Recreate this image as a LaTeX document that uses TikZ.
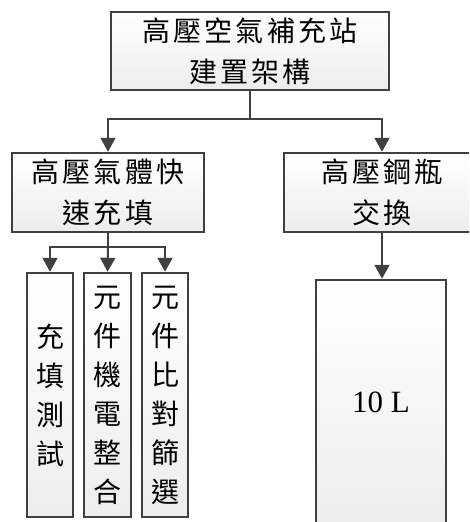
\documentclass[tikz,border=0pt]{standalone}
\usepackage{fontspec}
\setmainfont{Liberation Serif}
\newfontfamily\cjk[LetterSpace=11]{Noto Sans CJK TC}
\newfontfamily\cjkv{Noto Sans CJK TC}
\usetikzlibrary{arrows.meta}
\definecolor{edge}{HTML}{404040}
\tikzset{
  box/.style={draw=edge, line width=2.5pt, top color=white, bottom color=black!7, inner sep=0pt, align=center},
  htext/.style={font=\fontsize{28}{41}\selectfont\cjk},
  vtext/.style={font=\fontsize{28}{39}\selectfont\cjkv},
  conn/.style={draw=edge, line width=2pt},
  arr/.style={conn, -{Triangle[length=14pt,width=15pt]}},
}
\begin{document}
\begin{tikzpicture}[x=1pt,y=-1pt]
\useasboundingbox (0,0) rectangle (469,522);
\begin{scope}
\clip (0,0) rectangle (469,522);
\node[box, htext, minimum width=278pt, minimum height=78pt] (top) at (250,51) {高壓空氣補充站\\建置架構};
\node[box, htext, minimum width=192pt, minimum height=79pt] (mid1) at (108,192.5) {高壓氣體快\\速充填};
\node[box, htext, minimum width=196pt, minimum height=79pt] (mid2) at (382,192.5) {高壓鋼瓶\\交換};
\node[box, vtext, minimum width=46pt, minimum height=244pt] (s1) at (50,395) {充\\填\\測\\試};
\node[box, vtext, minimum width=47pt, minimum height=244pt] (s2) at (107.5,395) {元\\件\\機\\電\\整\\合};
\node[box, vtext, minimum width=46pt, minimum height=244pt] (s3) at (165,395) {元\\件\\比\\對\\篩\\選};
\node[box, font=\fontsize{31}{36}\selectfont, minimum width=130pt, minimum height=244pt] (tank) at (381,402) {10 L};
\coordinate (j1) at (250,119);
\coordinate (j2) at (108,247);
\draw[conn] (top.south) -- (j1);
\draw[arr] (j1) -| (mid1.north);
\draw[arr] (j1) -| (mid2.north);
\draw[arr] (mid2.south) -- (mid2.south |- tank.north);
\draw[conn] (mid1.south) -- (j2);
\draw[arr] (j2) -| (s1.north);
\draw[arr] (j2) -- (s2.north);
\draw[arr] (j2) -| (s3.north);
\end{scope}
\end{tikzpicture}
\end{document}
